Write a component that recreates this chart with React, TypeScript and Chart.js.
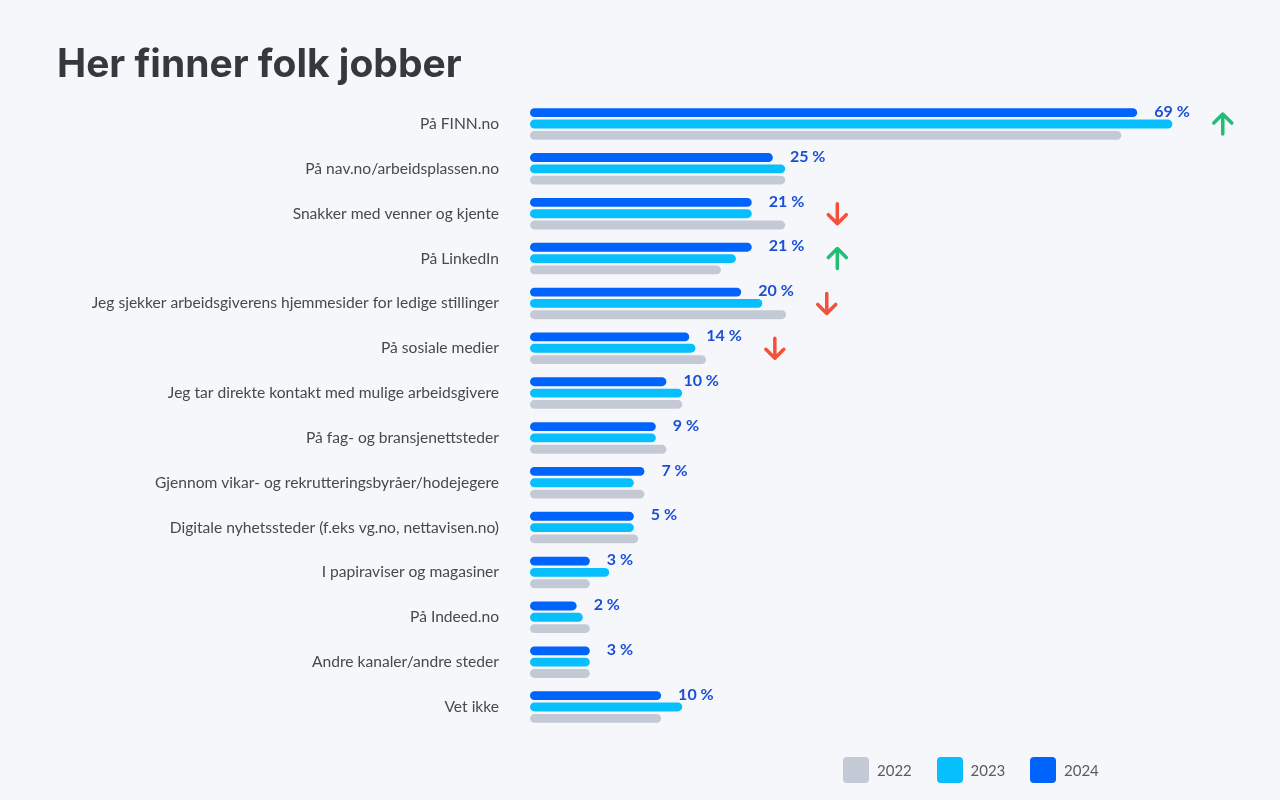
import { useEffect, useRef } from "react";
import { Chart, registerables } from "chart.js";

Chart.register(...registerables);

// ---- Data ----
const categories = [
  "På FINN.no",
  "På nav.no/arbeidsplassen.no",
  "Snakker med venner og kjente",
  "På LinkedIn",
  "Jeg sjekker arbeidsgiverens hjemmesider for ledige stillinger",
  "På sosiale medier",
  "Jeg tar direkte kontakt med mulige arbeidsgivere",
  "På fag- og bransjenettsteder",
  "Gjennom vikar- og rekrutteringsbyråer/hodejegere",
  "Digitale nyhetssteder (f.eks vg.no, nettavisen.no)",
  "I papiraviser og magasiner",
  "På Indeed.no",
  "Andre kanaler/andre steder",
  "Vet ikke",
];

const seriesNames = ["2022", "2023", "2024"];

// Bar lengths as drawn in the reference (same scale as the 69 % FINN bar)
const bar2024 = [69, 27.6, 25.2, 25.2, 24.0, 18.1, 15.5, 14.3, 13.0, 11.8, 6.8, 5.3, 6.8, 14.9];
const bar2023 = [73, 29.0, 25.2, 23.4, 26.4, 18.8, 17.3, 14.3, 11.8, 11.8, 9.0, 6.0, 6.8, 17.3];
const bar2022 = [67.2, 29.0, 29.0, 21.7, 29.1, 20.0, 17.3, 15.5, 13.0, 12.3, 6.8, 6.8, 6.8, 14.9];

// Printed value labels (2024)
const valueLabels = ["69 %", "25 %", "21 %", "21 %", "20 %", "14 %", "10 %", "9 %", "7 %", "5 %", "3 %", "2 %", "3 %", "10 %"];

// Trend arrows
const trends = ["up", "", "down", "up", "down", "down", "", "", "", "", "", "", "", ""];

const axisMax = 80;

// ---- Styles ----
const BG = "#f6f7fb";
const COLOR_2022 = "#c3cad6";
const COLOR_2023 = "#06bffc";
const COLOR_2024 = "#0063fb";
const LABEL_BLUE = "#1b4fd6";
const UP_GREEN = "#1fbf75";
const DOWN_RED = "#f4513d";
const TEXT = "#48494e";
const FONT = "Lato, 'Open Sans', sans-serif";

function drawArrow(ctx: CanvasRenderingContext2D, x: number, y: number, dir: string) {
  ctx.save();
  ctx.strokeStyle = dir === "up" ? UP_GREEN : DOWN_RED;
  ctx.lineWidth = 3.5;
  ctx.lineCap = "round";
  ctx.lineJoin = "round";
  const s = dir === "up" ? -1 : 1;
  ctx.beginPath();
  ctx.moveTo(x, y - s * 10);
  ctx.lineTo(x, y + s * 10);
  ctx.moveTo(x - 9, y + s * 1);
  ctx.lineTo(x, y + s * 10);
  ctx.lineTo(x + 9, y + s * 1);
  ctx.stroke();
  ctx.restore();
}

const annotationsPlugin = {
  id: "annotations",
  afterDatasetsDraw(chart: any) {
    const ctx: CanvasRenderingContext2D = chart.ctx;
    const m24 = chart.getDatasetMeta(0);
    const m23 = chart.getDatasetMeta(1);
    ctx.save();
    ctx.font = `bold 16px ${FONT}`;
    ctx.fillStyle = LABEL_BLUE;
    ctx.textBaseline = "middle";
    ctx.textAlign = "left";
    categories.forEach((_, i) => {
      const bar = m24.data[i];
      const x = bar.x + 17;
      const y = bar.y - 1;
      ctx.fillText(valueLabels[i], x, y);
      const w = ctx.measureText(valueLabels[i]).width;
      if (trends[i]) {
        drawArrow(ctx, x + w + 33, m23.data[i].y, trends[i]);
      }
    });
    ctx.restore();
  },
};

function ChartView() {
  const ref = useRef<HTMLCanvasElement | null>(null);
  useEffect(() => {
    if (!ref.current) return;
    const chart = new Chart(ref.current, {
      type: "bar",
      data: {
        labels: categories,
        datasets: [
          { label: seriesNames[2], data: bar2024, backgroundColor: COLOR_2024 },
          { label: seriesNames[1], data: bar2023, backgroundColor: COLOR_2023 },
          { label: seriesNames[0], data: bar2022, backgroundColor: COLOR_2022 },
        ].map((d) => ({
          ...d,
          borderRadius: 5,
          borderSkipped: false,
          categoryPercentage: 0.758,
          barPercentage: 0.78,
        })),
      },
      options: {
        indexAxis: "y",
        responsive: false,
        animation: false,
        layout: { padding: { left: 0, right: 46, top: 101.6, bottom: 70.6 } },
        plugins: { legend: { display: false }, tooltip: { enabled: false }, title: { display: false } },
        scales: {
          x: { display: false, min: 0, max: axisMax },
          y: {
            grid: { display: false, drawTicks: false },
            border: { display: false },
            ticks: { padding: 31, color: TEXT, font: { family: FONT, size: 15.6 } },
            afterFit: (scale: any) => {
              scale.width = 530;
            },
          },
        },
      } as any,
      plugins: [annotationsPlugin],
    });
    return () => chart.destroy();
  }, []);
  return <canvas ref={ref} width={1280} height={800} style={{ position: "absolute", left: 0, top: 0 }} />;
}

export default function App() {
  const legendColors = [COLOR_2022, COLOR_2023, COLOR_2024];
  return (
    <div style={{ position: "fixed", left: 0, top: 0, width: 1280, height: 800, background: BG, overflow: "hidden" }}>
      <ChartView />
      <div
        style={{
          position: "absolute",
          left: 57,
          top: 43,
          fontFamily: "Inter, Lato, sans-serif",
          fontWeight: 700,
          fontSize: 39,
          lineHeight: "40px",
          color: "#37383d",
          letterSpacing: "0px",
        }}
      >
        Her finner folk jobber
      </div>
      <div style={{ position: "absolute", left: 843, top: 757, display: "flex" }}>
        {seriesNames.map((n, i) => (
          <div key={n} style={{ width: 93.5, display: "flex", alignItems: "center" }}>
            <div style={{ width: 26, height: 26, borderRadius: 4, background: legendColors[i] }} />
            <span style={{ marginLeft: 8, fontFamily: FONT, fontSize: 15, color: "#5a5b60" }}>{n}</span>
          </div>
        ))}
      </div>
    </div>
  );
}
